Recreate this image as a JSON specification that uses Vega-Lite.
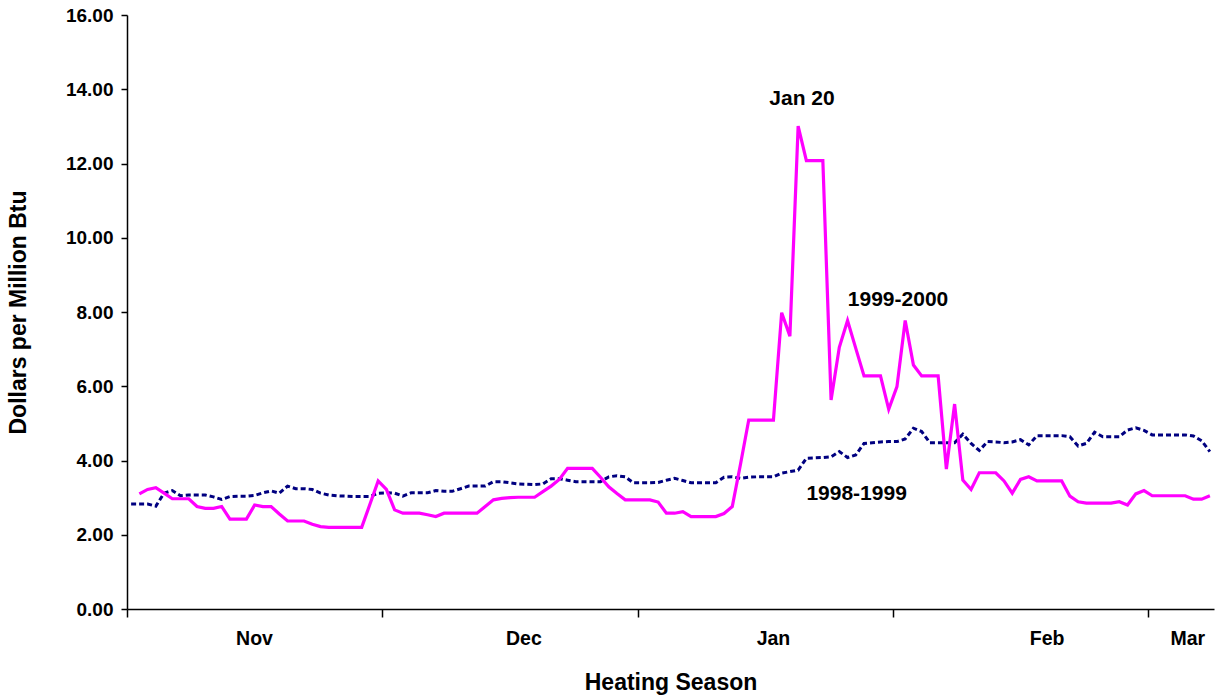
{
  "$schema": "https://vega.github.io/schema/vega-lite/v6.json",
  "autosize": {"type": "none"},
  "padding": {"left": 127, "top": 15, "right": 12, "bottom": 91},
  "width": 1087,
  "height": 594,
  "background": "white",
  "config": {
    "view": {"stroke": null},
    "font": "Liberation Sans",
    "axis": {"labelFont": "Liberation Sans", "titleFont": "Liberation Sans", "labelFontWeight": "bold", "titleFontWeight": "bold", "labelColor": "black", "titleColor": "black", "domainColor": "black", "tickColor": "black", "domainWidth": 1.5, "tickWidth": 1.5, "grid": false}
  },
  "datasets": {
    "prices": [
      {"day": 1, "price": 3.10, "series": "1999-2000"},
      {"day": 2, "price": 3.22, "series": "1999-2000"},
      {"day": 3, "price": 3.27, "series": "1999-2000"},
      {"day": 4, "price": 3.12, "series": "1999-2000"},
      {"day": 5, "price": 2.97, "series": "1999-2000"},
      {"day": 6, "price": 2.97, "series": "1999-2000"},
      {"day": 7, "price": 2.97, "series": "1999-2000"},
      {"day": 8, "price": 2.76, "series": "1999-2000"},
      {"day": 9, "price": 2.71, "series": "1999-2000"},
      {"day": 10, "price": 2.71, "series": "1999-2000"},
      {"day": 11, "price": 2.76, "series": "1999-2000"},
      {"day": 12, "price": 2.42, "series": "1999-2000"},
      {"day": 13, "price": 2.42, "series": "1999-2000"},
      {"day": 14, "price": 2.42, "series": "1999-2000"},
      {"day": 15, "price": 2.80, "series": "1999-2000"},
      {"day": 16, "price": 2.76, "series": "1999-2000"},
      {"day": 17, "price": 2.76, "series": "1999-2000"},
      {"day": 18, "price": 2.56, "series": "1999-2000"},
      {"day": 19, "price": 2.37, "series": "1999-2000"},
      {"day": 20, "price": 2.37, "series": "1999-2000"},
      {"day": 21, "price": 2.37, "series": "1999-2000"},
      {"day": 22, "price": 2.28, "series": "1999-2000"},
      {"day": 23, "price": 2.22, "series": "1999-2000"},
      {"day": 24, "price": 2.20, "series": "1999-2000"},
      {"day": 25, "price": 2.20, "series": "1999-2000"},
      {"day": 26, "price": 2.20, "series": "1999-2000"},
      {"day": 27, "price": 2.20, "series": "1999-2000"},
      {"day": 28, "price": 2.20, "series": "1999-2000"},
      {"day": 29, "price": 2.82, "series": "1999-2000"},
      {"day": 30, "price": 3.45, "series": "1999-2000"},
      {"day": 31, "price": 3.22, "series": "1999-2000"},
      {"day": 32, "price": 2.67, "series": "1999-2000"},
      {"day": 33, "price": 2.58, "series": "1999-2000"},
      {"day": 34, "price": 2.58, "series": "1999-2000"},
      {"day": 35, "price": 2.58, "series": "1999-2000"},
      {"day": 36, "price": 2.54, "series": "1999-2000"},
      {"day": 37, "price": 2.49, "series": "1999-2000"},
      {"day": 38, "price": 2.58, "series": "1999-2000"},
      {"day": 39, "price": 2.58, "series": "1999-2000"},
      {"day": 40, "price": 2.58, "series": "1999-2000"},
      {"day": 41, "price": 2.58, "series": "1999-2000"},
      {"day": 42, "price": 2.58, "series": "1999-2000"},
      {"day": 43, "price": 2.76, "series": "1999-2000"},
      {"day": 44, "price": 2.94, "series": "1999-2000"},
      {"day": 45, "price": 2.98, "series": "1999-2000"},
      {"day": 46, "price": 3.00, "series": "1999-2000"},
      {"day": 47, "price": 3.01, "series": "1999-2000"},
      {"day": 48, "price": 3.01, "series": "1999-2000"},
      {"day": 49, "price": 3.01, "series": "1999-2000"},
      {"day": 50, "price": 3.16, "series": "1999-2000"},
      {"day": 51, "price": 3.31, "series": "1999-2000"},
      {"day": 52, "price": 3.49, "series": "1999-2000"},
      {"day": 53, "price": 3.79, "series": "1999-2000"},
      {"day": 54, "price": 3.79, "series": "1999-2000"},
      {"day": 55, "price": 3.79, "series": "1999-2000"},
      {"day": 56, "price": 3.79, "series": "1999-2000"},
      {"day": 57, "price": 3.55, "series": "1999-2000"},
      {"day": 58, "price": 3.29, "series": "1999-2000"},
      {"day": 59, "price": 3.11, "series": "1999-2000"},
      {"day": 60, "price": 2.94, "series": "1999-2000"},
      {"day": 61, "price": 2.94, "series": "1999-2000"},
      {"day": 62, "price": 2.94, "series": "1999-2000"},
      {"day": 63, "price": 2.94, "series": "1999-2000"},
      {"day": 64, "price": 2.88, "series": "1999-2000"},
      {"day": 65, "price": 2.58, "series": "1999-2000"},
      {"day": 66, "price": 2.58, "series": "1999-2000"},
      {"day": 67, "price": 2.62, "series": "1999-2000"},
      {"day": 68, "price": 2.49, "series": "1999-2000"},
      {"day": 69, "price": 2.49, "series": "1999-2000"},
      {"day": 70, "price": 2.49, "series": "1999-2000"},
      {"day": 71, "price": 2.49, "series": "1999-2000"},
      {"day": 72, "price": 2.57, "series": "1999-2000"},
      {"day": 73, "price": 2.76, "series": "1999-2000"},
      {"day": 74, "price": 3.90, "series": "1999-2000"},
      {"day": 75, "price": 5.09, "series": "1999-2000"},
      {"day": 76, "price": 5.09, "series": "1999-2000"},
      {"day": 77, "price": 5.09, "series": "1999-2000"},
      {"day": 78, "price": 5.09, "series": "1999-2000"},
      {"day": 79, "price": 7.98, "series": "1999-2000"},
      {"day": 80, "price": 7.35, "series": "1999-2000"},
      {"day": 81, "price": 13.01, "series": "1999-2000"},
      {"day": 82, "price": 12.08, "series": "1999-2000"},
      {"day": 83, "price": 12.08, "series": "1999-2000"},
      {"day": 84, "price": 12.08, "series": "1999-2000"},
      {"day": 85, "price": 5.63, "series": "1999-2000"},
      {"day": 86, "price": 7.05, "series": "1999-2000"},
      {"day": 87, "price": 7.77, "series": "1999-2000"},
      {"day": 88, "price": 7.02, "series": "1999-2000"},
      {"day": 89, "price": 6.28, "series": "1999-2000"},
      {"day": 90, "price": 6.28, "series": "1999-2000"},
      {"day": 91, "price": 6.28, "series": "1999-2000"},
      {"day": 92, "price": 5.38, "series": "1999-2000"},
      {"day": 93, "price": 5.99, "series": "1999-2000"},
      {"day": 94, "price": 7.77, "series": "1999-2000"},
      {"day": 95, "price": 6.57, "series": "1999-2000"},
      {"day": 96, "price": 6.28, "series": "1999-2000"},
      {"day": 97, "price": 6.28, "series": "1999-2000"},
      {"day": 98, "price": 6.28, "series": "1999-2000"},
      {"day": 99, "price": 3.77, "series": "1999-2000"},
      {"day": 100, "price": 5.52, "series": "1999-2000"},
      {"day": 101, "price": 3.47, "series": "1999-2000"},
      {"day": 102, "price": 3.22, "series": "1999-2000"},
      {"day": 103, "price": 3.67, "series": "1999-2000"},
      {"day": 104, "price": 3.67, "series": "1999-2000"},
      {"day": 105, "price": 3.67, "series": "1999-2000"},
      {"day": 106, "price": 3.45, "series": "1999-2000"},
      {"day": 107, "price": 3.12, "series": "1999-2000"},
      {"day": 108, "price": 3.49, "series": "1999-2000"},
      {"day": 109, "price": 3.56, "series": "1999-2000"},
      {"day": 110, "price": 3.45, "series": "1999-2000"},
      {"day": 111, "price": 3.45, "series": "1999-2000"},
      {"day": 112, "price": 3.45, "series": "1999-2000"},
      {"day": 113, "price": 3.45, "series": "1999-2000"},
      {"day": 114, "price": 3.04, "series": "1999-2000"},
      {"day": 115, "price": 2.89, "series": "1999-2000"},
      {"day": 116, "price": 2.85, "series": "1999-2000"},
      {"day": 117, "price": 2.85, "series": "1999-2000"},
      {"day": 118, "price": 2.85, "series": "1999-2000"},
      {"day": 119, "price": 2.85, "series": "1999-2000"},
      {"day": 120, "price": 2.89, "series": "1999-2000"},
      {"day": 121, "price": 2.80, "series": "1999-2000"},
      {"day": 122, "price": 3.10, "series": "1999-2000"},
      {"day": 123, "price": 3.19, "series": "1999-2000"},
      {"day": 124, "price": 3.05, "series": "1999-2000"},
      {"day": 125, "price": 3.05, "series": "1999-2000"},
      {"day": 126, "price": 3.05, "series": "1999-2000"},
      {"day": 127, "price": 3.05, "series": "1999-2000"},
      {"day": 128, "price": 3.05, "series": "1999-2000"},
      {"day": 129, "price": 2.96, "series": "1999-2000"},
      {"day": 130, "price": 2.96, "series": "1999-2000"},
      {"day": 131, "price": 3.05, "series": "1999-2000"},
      {"day": 0, "price": 2.83, "series": "1998-1999"},
      {"day": 1, "price": 2.83, "series": "1998-1999"},
      {"day": 2, "price": 2.83, "series": "1998-1999"},
      {"day": 3, "price": 2.77, "series": "1998-1999"},
      {"day": 4, "price": 3.12, "series": "1998-1999"},
      {"day": 5, "price": 3.19, "series": "1998-1999"},
      {"day": 6, "price": 3.05, "series": "1998-1999"},
      {"day": 7, "price": 3.07, "series": "1998-1999"},
      {"day": 8, "price": 3.07, "series": "1998-1999"},
      {"day": 9, "price": 3.07, "series": "1998-1999"},
      {"day": 10, "price": 3.02, "series": "1998-1999"},
      {"day": 11, "price": 2.95, "series": "1998-1999"},
      {"day": 12, "price": 3.03, "series": "1998-1999"},
      {"day": 13, "price": 3.04, "series": "1998-1999"},
      {"day": 14, "price": 3.04, "series": "1998-1999"},
      {"day": 15, "price": 3.06, "series": "1998-1999"},
      {"day": 16, "price": 3.13, "series": "1998-1999"},
      {"day": 17, "price": 3.18, "series": "1998-1999"},
      {"day": 18, "price": 3.12, "series": "1998-1999"},
      {"day": 19, "price": 3.31, "series": "1998-1999"},
      {"day": 20, "price": 3.24, "series": "1998-1999"},
      {"day": 21, "price": 3.24, "series": "1998-1999"},
      {"day": 22, "price": 3.22, "series": "1998-1999"},
      {"day": 23, "price": 3.12, "series": "1998-1999"},
      {"day": 24, "price": 3.07, "series": "1998-1999"},
      {"day": 25, "price": 3.05, "series": "1998-1999"},
      {"day": 26, "price": 3.04, "series": "1998-1999"},
      {"day": 27, "price": 3.03, "series": "1998-1999"},
      {"day": 28, "price": 3.03, "series": "1998-1999"},
      {"day": 29, "price": 3.03, "series": "1998-1999"},
      {"day": 30, "price": 3.12, "series": "1998-1999"},
      {"day": 31, "price": 3.13, "series": "1998-1999"},
      {"day": 32, "price": 3.12, "series": "1998-1999"},
      {"day": 33, "price": 3.04, "series": "1998-1999"},
      {"day": 34, "price": 3.13, "series": "1998-1999"},
      {"day": 35, "price": 3.13, "series": "1998-1999"},
      {"day": 36, "price": 3.13, "series": "1998-1999"},
      {"day": 37, "price": 3.19, "series": "1998-1999"},
      {"day": 38, "price": 3.17, "series": "1998-1999"},
      {"day": 39, "price": 3.17, "series": "1998-1999"},
      {"day": 40, "price": 3.24, "series": "1998-1999"},
      {"day": 41, "price": 3.31, "series": "1998-1999"},
      {"day": 42, "price": 3.31, "series": "1998-1999"},
      {"day": 43, "price": 3.31, "series": "1998-1999"},
      {"day": 44, "price": 3.43, "series": "1998-1999"},
      {"day": 45, "price": 3.43, "series": "1998-1999"},
      {"day": 46, "price": 3.40, "series": "1998-1999"},
      {"day": 47, "price": 3.37, "series": "1998-1999"},
      {"day": 48, "price": 3.36, "series": "1998-1999"},
      {"day": 49, "price": 3.35, "series": "1998-1999"},
      {"day": 50, "price": 3.37, "series": "1998-1999"},
      {"day": 51, "price": 3.51, "series": "1998-1999"},
      {"day": 52, "price": 3.51, "series": "1998-1999"},
      {"day": 53, "price": 3.47, "series": "1998-1999"},
      {"day": 54, "price": 3.43, "series": "1998-1999"},
      {"day": 55, "price": 3.43, "series": "1998-1999"},
      {"day": 56, "price": 3.43, "series": "1998-1999"},
      {"day": 57, "price": 3.43, "series": "1998-1999"},
      {"day": 58, "price": 3.56, "series": "1998-1999"},
      {"day": 59, "price": 3.59, "series": "1998-1999"},
      {"day": 60, "price": 3.56, "series": "1998-1999"},
      {"day": 61, "price": 3.40, "series": "1998-1999"},
      {"day": 62, "price": 3.40, "series": "1998-1999"},
      {"day": 63, "price": 3.40, "series": "1998-1999"},
      {"day": 64, "price": 3.41, "series": "1998-1999"},
      {"day": 65, "price": 3.47, "series": "1998-1999"},
      {"day": 66, "price": 3.52, "series": "1998-1999"},
      {"day": 67, "price": 3.46, "series": "1998-1999"},
      {"day": 68, "price": 3.40, "series": "1998-1999"},
      {"day": 69, "price": 3.40, "series": "1998-1999"},
      {"day": 70, "price": 3.40, "series": "1998-1999"},
      {"day": 71, "price": 3.40, "series": "1998-1999"},
      {"day": 72, "price": 3.55, "series": "1998-1999"},
      {"day": 73, "price": 3.56, "series": "1998-1999"},
      {"day": 74, "price": 3.52, "series": "1998-1999"},
      {"day": 75, "price": 3.55, "series": "1998-1999"},
      {"day": 76, "price": 3.56, "series": "1998-1999"},
      {"day": 77, "price": 3.56, "series": "1998-1999"},
      {"day": 78, "price": 3.56, "series": "1998-1999"},
      {"day": 79, "price": 3.66, "series": "1998-1999"},
      {"day": 80, "price": 3.70, "series": "1998-1999"},
      {"day": 81, "price": 3.74, "series": "1998-1999"},
      {"day": 82, "price": 4.06, "series": "1998-1999"},
      {"day": 83, "price": 4.07, "series": "1998-1999"},
      {"day": 84, "price": 4.08, "series": "1998-1999"},
      {"day": 85, "price": 4.10, "series": "1998-1999"},
      {"day": 86, "price": 4.24, "series": "1998-1999"},
      {"day": 87, "price": 4.08, "series": "1998-1999"},
      {"day": 88, "price": 4.15, "series": "1998-1999"},
      {"day": 89, "price": 4.46, "series": "1998-1999"},
      {"day": 90, "price": 4.48, "series": "1998-1999"},
      {"day": 91, "price": 4.50, "series": "1998-1999"},
      {"day": 92, "price": 4.51, "series": "1998-1999"},
      {"day": 93, "price": 4.51, "series": "1998-1999"},
      {"day": 94, "price": 4.58, "series": "1998-1999"},
      {"day": 95, "price": 4.87, "series": "1998-1999"},
      {"day": 96, "price": 4.78, "series": "1998-1999"},
      {"day": 97, "price": 4.48, "series": "1998-1999"},
      {"day": 98, "price": 4.48, "series": "1998-1999"},
      {"day": 99, "price": 4.48, "series": "1998-1999"},
      {"day": 100, "price": 4.48, "series": "1998-1999"},
      {"day": 101, "price": 4.71, "series": "1998-1999"},
      {"day": 102, "price": 4.46, "series": "1998-1999"},
      {"day": 103, "price": 4.27, "series": "1998-1999"},
      {"day": 104, "price": 4.51, "series": "1998-1999"},
      {"day": 105, "price": 4.50, "series": "1998-1999"},
      {"day": 106, "price": 4.48, "series": "1998-1999"},
      {"day": 107, "price": 4.50, "series": "1998-1999"},
      {"day": 108, "price": 4.56, "series": "1998-1999"},
      {"day": 109, "price": 4.42, "series": "1998-1999"},
      {"day": 110, "price": 4.67, "series": "1998-1999"},
      {"day": 111, "price": 4.67, "series": "1998-1999"},
      {"day": 112, "price": 4.67, "series": "1998-1999"},
      {"day": 113, "price": 4.67, "series": "1998-1999"},
      {"day": 114, "price": 4.64, "series": "1998-1999"},
      {"day": 115, "price": 4.39, "series": "1998-1999"},
      {"day": 116, "price": 4.46, "series": "1998-1999"},
      {"day": 117, "price": 4.76, "series": "1998-1999"},
      {"day": 118, "price": 4.64, "series": "1998-1999"},
      {"day": 119, "price": 4.64, "series": "1998-1999"},
      {"day": 120, "price": 4.64, "series": "1998-1999"},
      {"day": 121, "price": 4.82, "series": "1998-1999"},
      {"day": 122, "price": 4.88, "series": "1998-1999"},
      {"day": 123, "price": 4.81, "series": "1998-1999"},
      {"day": 124, "price": 4.69, "series": "1998-1999"},
      {"day": 125, "price": 4.69, "series": "1998-1999"},
      {"day": 126, "price": 4.69, "series": "1998-1999"},
      {"day": 127, "price": 4.69, "series": "1998-1999"},
      {"day": 128, "price": 4.69, "series": "1998-1999"},
      {"day": 129, "price": 4.66, "series": "1998-1999"},
      {"day": 130, "price": 4.53, "series": "1998-1999"},
      {"day": 131, "price": 4.24, "series": "1998-1999"}
    ],
    "notes": [
      {"day": 81.47, "price": 13.75, "label": "Jan 20"},
      {"day": 93.13, "price": 8.33, "label": "1999-2000"},
      {"day": 88.1, "price": 3.09, "label": "1998-1999"}
    ]
  },
  "encoding": {
    "x": {
      "field": "day",
      "type": "quantitative",
      "scale": {"domain": [-0.5, 131.5], "nice": false, "zero": false},
      "axis": {
        "title": "Heating Season",
        "titleFontSize": 23,
        "titlePadding": 24,
        "values": [-0.5, 14.92, 30.5, 47.63, 61.5, 77.94, 92.5, 111.18, 123.5, 128.26],
        "labelExpr": "abs(datum.value % 1) == 0.5 ? '' : (datum.value < 20 ? 'Nov' : datum.value < 50 ? 'Dec' : datum.value < 90 ? 'Jan' : datum.value < 120 ? 'Feb' : 'Mar')",
        "tickOpacity": {"condition": {"test": "abs(datum.value % 1) == 0.5", "value": 1}, "value": 0},
        "tickSize": 8,
        "labelPadding": 12,
        "labelFontSize": 19.5,
        "labelOverlap": false,
        "labelFlush": false,
        "labelBound": false
      }
    },
    "y": {
      "field": "price",
      "type": "quantitative",
      "scale": {"domain": [0, 16], "nice": false},
      "axis": {
        "title": "Dollars per Million Btu",
        "titleFontSize": 23,
        "titlePadding": 35,
        "values": [0, 2, 4, 6, 8, 10, 12, 14, 16],
        "format": ".2f",
        "tickSize": 6,
        "labelPadding": 8,
        "labelFontSize": 19
      }
    }
  },
  "layer": [
    {
      "data": {"name": "prices"},
      "transform": [{"filter": "datum.series === '1998-1999'"}],
      "mark": {"type": "line", "color": "#000080", "strokeWidth": 3, "strokeDash": [5, 3], "strokeCap": "butt"}
    },
    {
      "data": {"name": "prices"},
      "transform": [{"filter": "datum.series === '1999-2000'"}],
      "mark": {"type": "line", "color": "#FF00FF", "strokeWidth": 3.2}
    },
    {
      "data": {"name": "notes"},
      "mark": {"type": "text", "font": "Liberation Sans", "fontWeight": "bold", "fontSize": 21, "color": "black", "baseline": "middle", "align": "center"},
      "encoding": {"text": {"field": "label"}}
    }
  ]
}
